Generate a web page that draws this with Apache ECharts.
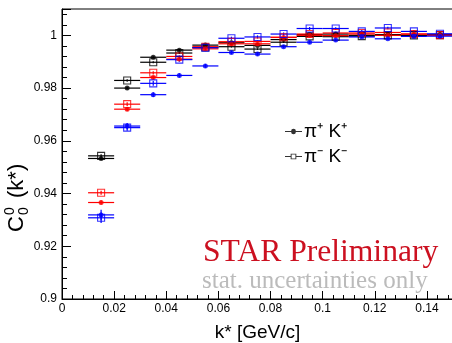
<!DOCTYPE html>
<html>
<head>
<meta charset="utf-8">
<script src="https://cdn.jsdelivr.net/npm/echarts@6/dist/echarts.min.js"></script>
<style>
  html, body { margin: 0; padding: 0; background: #fff; }
  #chart { width: 452px; height: 343px; }
</style>
</head>
<body>
<div id="chart"></div>
<script>
  // bin centres of k* (GeV/c), half width of each bin
  const kStar = [0.015, 0.025, 0.035, 0.045, 0.055, 0.065, 0.075, 0.085, 0.095, 0.105, 0.115, 0.125, 0.135, 0.145]
  const binHalfWidth = 0.005

  // black (legend): pi+ K+ filled circles, pi- K- open squares
  const blackPlus = [0.9533, 0.9800, 0.9917, 0.9944, 0.9963, 0.9972, 0.9962, 0.9984, 1.0003, 1.0005, 1.0000, 1.0003, 1.0000, 1.0003]
  const blackMinus = [0.9543, 0.9829, 0.9898, 0.9933, 0.9954, 0.9957, 0.9948, 0.9974, 0.9996, 0.9995, 0.9997, 1.0000, 1.0000, 1.0001]
  const redPlus = [0.9366, 0.9720, 0.9840, 0.9910, 0.9949, 0.9968, 0.9968, 0.9992, 1.0000, 0.9999, 1.0005, 1.0000, 1.0005, 1.0000]
  const redMinus = [0.9403, 0.9739, 0.9858, 0.9920, 0.9957, 0.9976, 0.9977, 0.9993, 1.0005, 1.0009, 1.0009, 1.0011, 1.0005, 1.0001]
  const bluePlus = [0.9319, 0.9656, 0.9775, 0.9848, 0.9884, 0.9935, 0.9929, 0.9957, 0.9974, 0.9982, 0.9994, 0.9987, 0.9996, 0.9997]
  const blueMinus = [0.9308, 0.9650, 0.9818, 0.9908, 0.9953, 0.9989, 0.9994, 1.0005, 1.0026, 1.0026, 1.0015, 1.0028, 1.0015, 1.0006]

  // statistical errors on C
  const blackErr = [0.0006, 0.0005, 0.0004, 0.0004, 0.0003, 0.0003, 0.0003, 0.0003, 0.0003, 0.0003, 0.0003, 0.0003, 0.0003, 0.0003]
  const redErr = [0.0008, 0.0007, 0.0006, 0.0005, 0.0005, 0.0004, 0.0004, 0.0004, 0.0004, 0.0004, 0.0004, 0.0004, 0.0004, 0.0004]
  const blueErr = [0.0020, 0.0012, 0.0009, 0.0008, 0.0007, 0.0006, 0.0006, 0.0006, 0.0006, 0.0005, 0.0005, 0.0005, 0.0005, 0.0005]

  const xTicks = [0, 0.02, 0.04, 0.06, 0.08, 0.1, 0.12, 0.14]
  const yTicks = [0.9, 0.92, 0.94, 0.96, 0.98, 1]

  const font = 'Liberation Sans'

  function errorBars (vals, errs, color) {
    return {
      type: 'custom',
      silent: true,
      clip: true,
      z: 2,
      data: kStar.map((k, i) => [k, vals[i], errs[i]]),
      renderItem: function (params, api) {
        let x = api.value(0)
        let y = api.value(1)
        let e = api.value(2)
        let l = api.coord([x - binHalfWidth, y])
        let r = api.coord([x + binHalfWidth, y])
        let t = api.coord([x, y + e])
        let b = api.coord([x, y - e])
        let st = {stroke: color, lineWidth: 1.2}
        return {
          type: 'group',
          children: [
            {type: 'line', shape: {x1: l[0], y1: l[1], x2: r[0], y2: r[1]}, style: st},
            {type: 'line', shape: {x1: t[0], y1: t[1], x2: b[0], y2: b[1]}, style: st}
          ]
        }
      }
    }
  }

  function markers (name, vals, color, open) {
    return {
      name: name,
      type: 'scatter',
      z: 3,
      symbol: open ? 'rect' : 'circle',
      symbolSize: open ? 7 : 5,
      itemStyle: open
        ? {color: 'rgba(0,0,0,0)', borderColor: color, borderWidth: 1.1}
        : {color: color},
      data: kStar.map((k, i) => [k, vals[i]])
    }
  }

  const iconDot = 'path://M0,2.5H6.5A2.5,2.5 0 0 1 11.5,2.5H18V3.5H11.5A2.5,2.5 0 0 1 6.5,3.5H0Z'
  const iconBox = 'path://M0,2.5H6V0H12V2.5H18V3.5H12V6H6V3.5H0Z M7,1V5H11V1Z'

  let chart = echarts.init(document.getElementById('chart'))
  chart.setOption({
    animation: false,
    textStyle: {fontFamily: font},
    grid: {
      left: 62, right: -1, top: 9, bottom: 44,
      outerBoundsMode: 'none', containLabel: false,
      show: true, borderColor: '#000', borderWidth: 1, backgroundColor: 'transparent'
    },
    legend: {
      orient: 'vertical',
      left: 280,
      top: 117,
      itemWidth: 17,
      itemHeight: 6,
      itemGap: 6,
      selectedMode: false,
      textStyle: {fontFamily: font, fontSize: 19, color: '#000', padding: [0, 0, 0, -3]},
      data: [
        {name: 'π⁺ K⁺', icon: iconDot, itemStyle: {color: '#000'}},
        {name: 'π⁻ K⁻', icon: iconBox, itemStyle: {color: '#000', borderWidth: 0}}
      ]
    },
    xAxis: {
      type: 'value',
      min: 0,
      max: 0.15,
      interval: 0.02,
      axisLine: {lineStyle: {color: '#000', width: 1}},
      axisTick: {inside: true, length: 8, lineStyle: {color: '#000'}},
      minorTick: {show: true, splitNumber: 5, length: 4, lineStyle: {color: '#000'}},
      splitLine: {show: false},
      axisLabel: {
        color: '#000',
        fontSize: 12,
        margin: 4,
        formatter: v => xTicks.some(t => Math.abs(t - v) < 1e-9) ? String(+v.toFixed(2)) : ''
      },
      name: 'k* [GeV/c]',
      nameLocation: 'middle',
      nameGap: 24,
      nameTextStyle: {color: '#000', fontSize: 19, fontFamily: font}
    },
    yAxis: {
      type: 'value',
      min: 0.9,
      max: 1.01,
      interval: 0.02,
      axisLine: {show: true, lineStyle: {color: '#000', width: 1}},
      axisTick: {show: true, inside: true, length: 9, lineStyle: {color: '#000'}},
      minorTick: {show: true, splitNumber: 5, length: 5, lineStyle: {color: '#000'}},
      splitLine: {show: false},
      axisLabel: {
        color: '#000',
        fontSize: 12,
        margin: 5,
        formatter: v => yTicks.some(t => Math.abs(t - v) < 1e-9) ? String(+v.toFixed(2)) : ''
      }
    },
    graphic: [
      {
        type: 'group',
        x: 17,
        y: 232,
        rotation: Math.PI / 2,
        children: [
          {type: 'text', x: 0, y: 0, style: {text: 'C', fontFamily: font, fontSize: 22, fill: '#000', verticalAlign: 'middle'}},
          {type: 'text', x: 17, y: -7, style: {text: '0', fontFamily: font, fontSize: 14, fill: '#000', verticalAlign: 'middle'}},
          {type: 'text', x: 17, y: 7, style: {text: '0', fontFamily: font, fontSize: 14, fill: '#000', verticalAlign: 'middle'}},
          {type: 'text', x: 34, y: 0, style: {text: '(k*)', fontFamily: font, fontSize: 22, fill: '#000', verticalAlign: 'middle'}}
        ]
      },
      {type: 'text', left: 203, top: 237, z: 10, style: {text: 'STAR Preliminary', fontFamily: 'Liberation Serif', fontSize: 31.6, fill: '#cc1020'}},
      {type: 'text', left: 202, top: 269, z: 10, style: {text: 'stat. uncertainties only', fontFamily: 'Liberation Serif', fontSize: 25, fill: '#bbbbbb'}}
    ],
    series: [
      errorBars(blackPlus, blackErr, '#000'),
      errorBars(blackMinus, blackErr, '#000'),
      markers('π⁺ K⁺', blackPlus, '#000', false),
      markers('π⁻ K⁻', blackMinus, '#000', true),
      errorBars(redPlus, redErr, '#ff0000'),
      errorBars(redMinus, redErr, '#ff0000'),
      markers('red+', redPlus, '#ff0000', false),
      markers('red-', redMinus, '#ff0000', true),
      errorBars(bluePlus, blueErr, '#0000ff'),
      errorBars(blueMinus, blueErr, '#0000ff'),
      markers('blue+', bluePlus, '#0000ff', false),
      markers('blue-', blueMinus, '#0000ff', true)
    ]
  })
</script>
</body>
</html>
